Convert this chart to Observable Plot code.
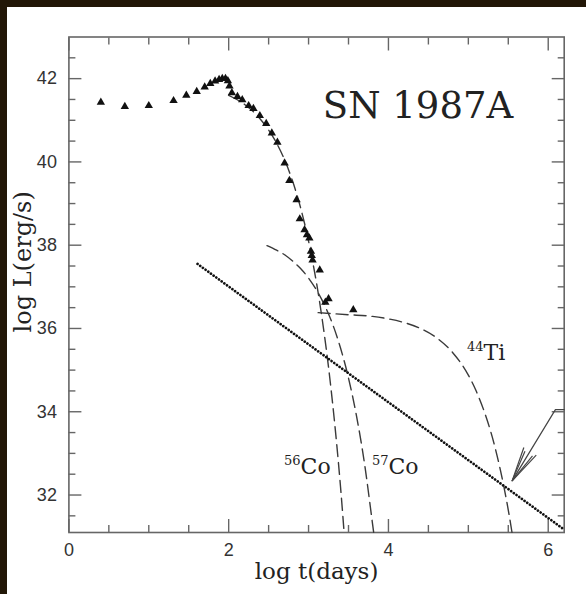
<!DOCTYPE html>
<html><head><meta charset="utf-8">
<script src="https://cdn.jsdelivr.net/npm/d3@7"></script>
<script src="https://cdn.jsdelivr.net/npm/@observablehq/plot@0.6"></script>
<style>
html,body{margin:0;padding:0;background:#fff;}
#wrap{position:relative;width:586px;height:594px;overflow:hidden;background:#fff;}
#wrap svg{position:absolute;left:0;top:0;}
.band{position:absolute;background:#221707;}
</style></head><body>
<div id="wrap"><div class="band" style="left:0;top:0;width:586px;height:7px"></div><div class="band" style="left:0;top:0;width:7px;height:594px"></div></div>
<script>
const title = "SN 1987A";
const xLabel = "log t(days)";
const yLabel = "log L(erg/s)";
const xMajor = [0, 2, 4, 6];
const xMinor = [0.5, 1, 1.5, 2.5, 3, 3.5, 4.5, 5, 5.5];
const yMajor = [32, 34, 36, 38, 40, 42];
const yMinor = [31.5, 32.5, 33, 33.5, 34.5, 35, 35.5, 36.5, 37, 37.5, 38.5, 39, 39.5, 40.5, 41, 41.5, 42.5];

// observed bolometric light curve (triangles)
const obsT = [0.40, 0.70, 1.00, 1.31, 1.47, 1.60, 1.70, 1.77, 1.83, 1.88, 1.92, 1.96, 1.99, 2.01, 2.04, 2.11, 2.17, 2.25, 2.31, 2.39, 2.47, 2.54, 2.61, 2.70, 2.76, 2.85, 2.89, 2.95, 2.98, 3.01, 3.03, 3.04, 3.05, 3.14, 3.21, 3.25, 3.56];
const obsL = [41.43, 41.33, 41.35, 41.47, 41.60, 41.69, 41.80, 41.88, 41.94, 41.98, 42.00, 42.00, 41.95, 41.82, 41.66, 41.57, 41.49, 41.35, 41.28, 41.11, 40.92, 40.69, 40.47, 39.97, 39.55, 39.09, 38.63, 38.37, 38.25, 38.17, 37.85, 37.75, 37.64, 37.40, 36.63, 36.71, 36.45];

// model curves (dashed)
const co56T = [2.00, 2.20, 2.40, 2.60, 2.70, 2.80, 2.90, 3.00, 3.05, 3.10, 3.15, 3.20, 3.25, 3.30, 3.35, 3.40, 3.445];
const co56L = [41.60, 41.38, 41.02, 40.45, 40.05, 39.54, 38.90, 38.10, 37.62, 37.09, 36.49, 35.82, 35.07, 34.22, 33.27, 32.20, 31.10];
const co57T = [2.48, 2.60, 2.70, 2.80, 2.90, 3.00, 3.10, 3.20, 3.30, 3.40, 3.50, 3.60, 3.70, 3.80, 3.815];
const co57L = [37.99, 37.88, 37.77, 37.62, 37.44, 37.21, 36.92, 36.56, 36.11, 35.53, 34.81, 33.90, 32.76, 31.32, 31.10];
const ti44T = [3.12, 3.50, 3.80, 4.00, 4.20, 4.40, 4.60, 4.80, 5.00, 5.10, 5.20, 5.30, 5.40, 5.50, 5.55];
const ti44L = [36.38, 36.33, 36.29, 36.23, 36.14, 36.00, 35.78, 35.43, 34.88, 34.49, 34.00, 33.39, 32.61, 31.64, 31.06];

// dotted line
const dotT = [1.61, 6.2];
const dotL = [37.55, 31.17];

// isotope labels
const isoMass = ["56", "57", "44"];
const isoElem = ["Co", "Co", "Ti"];
const isoT = [2.90, 4.00, 5.19];
const isoL = [32.68, 32.68, 35.42];

// arrow
const arrowT = [6.2, 6.09, 5.548];
const arrowL = [34.05, 34.05, 32.34];
const barbT = [5.695, 5.850, 5.709, 5.803];
const barbL = [33.14, 32.96, 33.05, 32.94];

const zip = (xs, ys) => xs.map((x, i) => ({x, y: ys[i]}));
const obs = zip(obsT, obsL);
const co56 = zip(co56T, co56L);
const co57 = zip(co57T, co57L);
const ti44 = zip(ti44T, ti44L);
const dotted = zip(dotT, dotL);
const arrow = zip(arrowT, arrowL);
const barbs = barbT.map((x, i) => ({x1: arrowT[2], y1: arrowL[2], x2: x, y2: barbL[i]}));
const iso = isoElem.map((e, i) => ({e, m: isoMass[i], x: isoT[i], y: isoL[i]}));

const tickStroke = "#666";
const serif = "DejaVu Serif";
const dash = {stroke: "#3a3a3a", strokeWidth: 1.4, strokeDasharray: "12,6", curve: "monotone-x"};

const chart = Plot.plot({
  width: 586, height: 594,
  marginLeft: 68.4, marginRight: 22.3, marginTop: 36.5, marginBottom: 62,
  x: {domain: [0, 6.2]},
  y: {domain: [31.1, 43]},
  style: {fontFamily: "Liberation Sans", fontSize: "18px", color: "#333", background: "transparent"},
  marks: [
    Plot.axisX(xMajor, {anchor: "bottom", tickSize: -13, tickPadding: 24, label: null, stroke: tickStroke, strokeWidth: 1.4, fontSize: 18, fill: "#333"}),
    Plot.axisX(xMinor, {anchor: "bottom", tickSize: -7, tickFormat: () => "", label: null, stroke: tickStroke, strokeWidth: 1.4}),
    Plot.axisX(xMajor, {anchor: "top", tickSize: -13, tickFormat: () => "", label: null, stroke: tickStroke, strokeWidth: 1.4}),
    Plot.axisX(xMinor, {anchor: "top", tickSize: -7, tickFormat: () => "", label: null, stroke: tickStroke, strokeWidth: 1.4}),
    Plot.axisY(yMajor, {anchor: "left", tickSize: -13, tickPadding: 25, label: null, stroke: tickStroke, strokeWidth: 1.4, fontSize: 18, fill: "#333"}),
    Plot.axisY(yMinor, {anchor: "left", tickSize: -7, tickFormat: () => "", label: null, stroke: tickStroke, strokeWidth: 1.4}),
    Plot.axisY(yMajor, {anchor: "right", tickSize: -13, tickFormat: () => "", label: null, stroke: tickStroke, strokeWidth: 1.4}),
    Plot.axisY(yMinor, {anchor: "right", tickSize: -7, tickFormat: () => "", label: null, stroke: tickStroke, strokeWidth: 1.4}),
    Plot.frame({stroke: tickStroke, strokeWidth: 1.6}),
    Plot.line(co56, {x: "x", y: "y", ...dash}),
    Plot.line(co57, {x: "x", y: "y", ...dash}),
    Plot.line(ti44, {x: "x", y: "y", ...dash}),
    Plot.line(dotted, {x: "x", y: "y", stroke: "#111", strokeWidth: 2.7, strokeLinecap: "round", strokeDasharray: "0.01,3.3"}),
    Plot.line(arrow, {x: "x", y: "y", stroke: "#444", strokeWidth: 1.2}),
    Plot.link(barbs, {x1: "x1", y1: "y1", x2: "x2", y2: "y2", stroke: "#444", strokeWidth: 1.2}),
    Plot.dot(obs, {x: "x", y: "y", symbol: "triangle", r: 3.1, fill: "#111", stroke: "none"}),
    Plot.text(iso, {x: "x", y: "y", text: "e", textAnchor: "start", fontFamily: serif, fontSize: 22, fill: "#222"}),
    Plot.text(iso, {x: "x", y: "y", text: "m", textAnchor: "end", dy: -6, fontFamily: serif, fontSize: 13, fill: "#222"}),
    Plot.text([title], {x: () => 4.37, y: () => 41.33, text: d => d, fontFamily: serif, fontSize: 37, fill: "#222"}),
    Plot.text([xLabel], {frameAnchor: "bottom", dy: 46, text: d => d, fontFamily: serif, fontSize: 23, fill: "#222"}),
    Plot.text([yLabel], {x: () => 0, y: () => 37.6, dx: -46, rotate: -90, text: d => d, fontFamily: serif, fontSize: 24, fill: "#222"})
  ]
});
document.getElementById("wrap").prepend(chart);
</script>
</body></html>
